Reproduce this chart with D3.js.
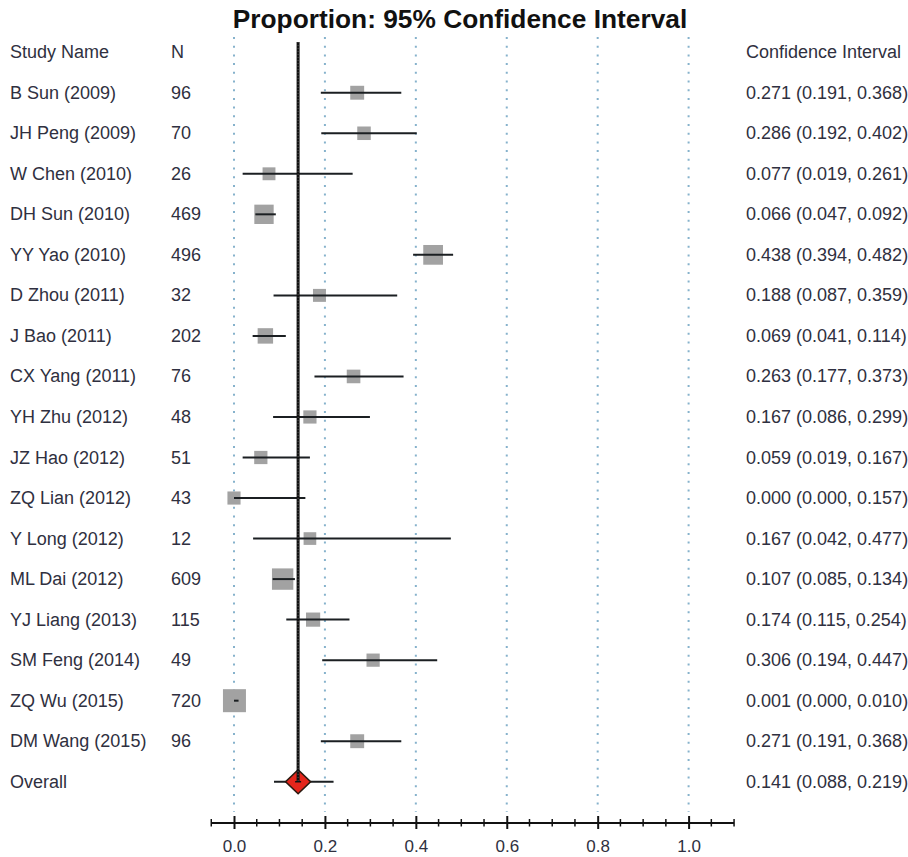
<!DOCTYPE html>
<html>
<head>
<meta charset="utf-8">
<script src="https://cdn.jsdelivr.net/npm/d3@7"></script>
<style>
  html, body { margin: 0; padding: 0; background: #ffffff; }
  svg { display: block; }
  text { font-family: "Liberation Sans", Arial, sans-serif; }
</style>
</head>
<body>
<svg id="chart" width="908" height="857"></svg>
<script>
// Study-level proportions with 95% confidence intervals
const studyNames = [
  "B Sun (2009)", "JH Peng (2009)", "W Chen (2010)", "DH Sun (2010)",
  "YY Yao (2010)", "D Zhou (2011)", "J Bao (2011)", "CX Yang (2011)",
  "YH Zhu (2012)", "JZ Hao (2012)", "ZQ Lian (2012)", "Y Long (2012)",
  "ML Dai (2012)", "YJ Liang (2013)", "SM Feng (2014)", "ZQ Wu (2015)",
  "DM Wang (2015)"
];
const sampleSizes = [96, 70, 26, 469, 496, 32, 202, 76, 48, 51, 43, 12, 609, 115, 49, 720, 96];
const estimates   = [0.271, 0.286, 0.077, 0.066, 0.438, 0.188, 0.069, 0.263, 0.167, 0.059, 0.000, 0.167, 0.107, 0.174, 0.306, 0.001, 0.271];
const lowerCI     = [0.191, 0.192, 0.019, 0.047, 0.394, 0.087, 0.041, 0.177, 0.086, 0.019, 0.000, 0.042, 0.085, 0.115, 0.194, 0.000, 0.191];
const upperCI     = [0.368, 0.402, 0.261, 0.092, 0.482, 0.359, 0.114, 0.373, 0.299, 0.167, 0.157, 0.477, 0.134, 0.254, 0.447, 0.010, 0.368];

// Pooled estimate
const overallLabel = "Overall";
const overallEstimate = 0.141;
const overallLower = 0.088;
const overallUpper = 0.219;

// Axis ticks
const majorTicks = [0.0, 0.2, 0.4, 0.6, 0.8, 1.0];
const majorTickLabels = ["0.0", "0.2", "0.4", "0.6", "0.8", "1.0"];
const axisExtent = [-0.05, 1.1];

const titleText = "Proportion: 95% Confidence Interval";
const headerName = "Study Name";
const headerN = "N";
const headerCI = "Confidence Interval";

const textColor = "#2f3040";
const fontSize = 18;
const svg = d3.select("#chart");

const x = d3.scaleLinear().domain([0, 1]).range([234, 688.6]);
const y = d3.scaleLinear().domain([0, 1]).range([52.2, 52.2 + 40.53]);
const sizeScale = d3.scaleLinear().domain([0, 720]).range([12.5, 23]);
const fmt = d3.format(".3f");

const studies = studyNames.map((name, i) => ({
  name, n: sampleSizes[i], est: estimates[i], lo: lowerCI[i], hi: upperCI[i], row: i + 1
}));
const overallRow = studies.length + 1;

// Title
svg.append("text")
  .attr("x", 460).attr("y", 28)
  .attr("text-anchor", "middle")
  .attr("font-size", 26.3).attr("font-weight", "bold")
  .attr("fill", "#111")
  .text(titleText);

// Dotted reference grid
svg.append("g").selectAll("line")
  .data(majorTicks)
  .join("line")
  .attr("x1", d => x(d)).attr("x2", d => x(d))
  .attr("y1", 37).attr("y2", 812)
  .attr("stroke", "#86b2cc")
  .attr("stroke-width", 2)
  .attr("stroke-dasharray", "2 6.7");

// Column headers
const header = svg.append("g").attr("font-size", fontSize).attr("fill", textColor);
header.append("text").attr("x", 10).attr("y", y(0) + 6).text(headerName);
header.append("text").attr("x", 171).attr("y", y(0) + 6).text(headerN);
header.append("text").attr("x", 746).attr("y", y(0) + 6).text(headerCI);

// Study rows: text columns
const rows = svg.append("g").attr("font-size", fontSize).attr("fill", textColor);
rows.selectAll("text.name").data(studies).join("text")
  .attr("class", "name").attr("x", 10).attr("y", d => y(d.row) + 6).text(d => d.name);
rows.selectAll("text.n").data(studies).join("text")
  .attr("class", "n").attr("x", 171).attr("y", d => y(d.row) + 6).text(d => d.n);
rows.selectAll("text.ci").data(studies).join("text")
  .attr("class", "ci").attr("x", 746).attr("y", d => y(d.row) + 6)
  .text(d => `${fmt(d.est)} (${fmt(d.lo)}, ${fmt(d.hi)})`);

rows.append("text").attr("x", 10).attr("y", y(overallRow) + 6).text(overallLabel);
rows.append("text").attr("x", 746).attr("y", y(overallRow) + 6)
  .text(`${fmt(overallEstimate)} (${fmt(overallLower)}, ${fmt(overallUpper)})`);

// Study squares (size by sample size)
svg.append("g").selectAll("rect").data(studies).join("rect")
  .attr("x", d => x(d.est) - sizeScale(d.n) / 2)
  .attr("y", d => y(d.row) - sizeScale(d.n) / 2)
  .attr("width", d => sizeScale(d.n))
  .attr("height", d => sizeScale(d.n))
  .attr("fill", "#a2a2a2");

// Confidence interval whiskers
svg.append("g").selectAll("line").data(studies).join("line")
  .attr("x1", d => x(d.lo)).attr("x2", d => Math.max(x(d.hi), x(d.lo) + 1.5))
  .attr("y1", d => y(d.row)).attr("y2", d => y(d.row))
  .attr("stroke", "#1b1f22").attr("stroke-width", 2);

// Pooled estimate: whisker and diamond
const oy = y(overallRow);
const ox = x(overallEstimate);
svg.append("line")
  .attr("x1", x(overallLower)).attr("x2", x(overallUpper))
  .attr("y1", oy).attr("y2", oy)
  .attr("stroke", "#1b1f22").attr("stroke-width", 2);
svg.append("path")
  .attr("d", `M${ox},${oy - 12}L${ox + 12.5},${oy}L${ox},${oy + 12}L${ox - 12.5},${oy}Z`)
  .attr("fill", "#e4261c").attr("stroke", "#2a1a10").attr("stroke-width", 1.6);

// Vertical line at the pooled estimate
svg.append("line")
  .attr("x1", ox).attr("x2", ox)
  .attr("y1", 42).attr("y2", oy)
  .attr("stroke", "#111").attr("stroke-width", 3);
svg.append("line")
  .attr("x1", ox).attr("x2", ox)
  .attr("y1", 42).attr("y2", oy)
  .attr("stroke", "#555").attr("stroke-width", 1)
  .attr("stroke-dasharray", "1 2");
svg.append("line")
  .attr("x1", ox - 3).attr("x2", ox + 3)
  .attr("y1", oy).attr("y2", oy)
  .attr("stroke", "#111").attr("stroke-width", 1.5);

// Bottom axis
const axisY = 823;
const axisG = svg.append("g").attr("transform", `translate(0,${axisY})`);
axisG.append("line")
  .attr("x1", x(axisExtent[0])).attr("x2", x(axisExtent[1]))
  .attr("stroke", "#111").attr("stroke-width", 2);

const minorTicks = d3.range(-1, 23).map(k => k * 0.05)
  .filter(v => !majorTicks.some(m => Math.abs(m - v) < 1e-9));
axisG.selectAll("line.minor").data(minorTicks).join("line")
  .attr("class", "minor")
  .attr("x1", d => x(d)).attr("x2", d => x(d))
  .attr("y1", -4).attr("y2", 3.5)
  .attr("stroke", "#111").attr("stroke-width", 1.5);

const axis = d3.axisBottom(x)
  .tickValues(majorTicks)
  .tickFormat((d, i) => majorTickLabels[i])
  .tickSize(6)
  .tickSizeOuter(0);
const axisLabels = svg.append("g").attr("transform", `translate(0,${axisY})`).call(axis);
axisLabels.select(".domain").remove();
axisLabels.selectAll(".tick line")
  .attr("y1", -7).attr("y2", 6)
  .attr("stroke", "#111").attr("stroke-width", 2);
axisLabels.selectAll(".tick text")
  .attr("y", 29).attr("dy", 0)
  .attr("font-size", 17)
  .attr("font-family", "Liberation Sans, Arial, sans-serif")
  .attr("fill", textColor);
</script>
</body>
</html>
